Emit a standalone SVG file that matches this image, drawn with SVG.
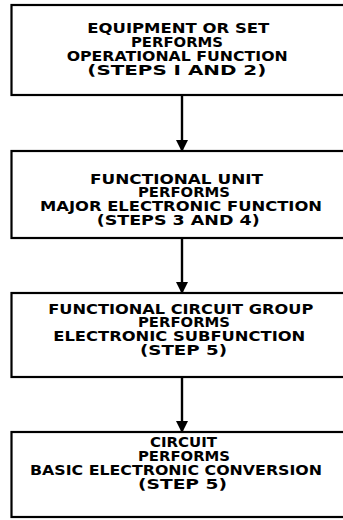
<svg xmlns="http://www.w3.org/2000/svg" width="343" height="520" viewBox="0 0 343 520">
<defs>
<style>
.box{fill:#fff;stroke:#000;stroke-width:2.2}
.t{font-family:"DejaVu Sans",sans-serif;font-weight:bold;font-size:14px;fill:#000}
.line{stroke:#000;stroke-width:2.4;fill:none}
</style>
<marker id="ah" markerUnits="userSpaceOnUse" markerWidth="12" markerHeight="24" refX="11" refY="6" orient="auto" viewBox="0 0 12 12">
<path d="M0,0 L12,6 L0,12 Z" fill="#000"/>
</marker>
</defs>
<rect width="343" height="520" fill="#fff"/>
<g id="connectors">
<line class="line" x1="182" y1="95" x2="182" y2="151" marker-end="url(#ah)"/>
<line class="line" x1="182" y1="238" x2="182" y2="293" marker-end="url(#ah)"/>
<line class="line" x1="182" y1="377" x2="182" y2="432" marker-end="url(#ah)"/>
</g>
<g id="node1">
<rect class="box" x="11.5" y="5" width="340" height="90"/>
<text class="t" x="87.3" y="33" textLength="182" lengthAdjust="spacingAndGlyphs">EQUIPMENT OR SET</text>
<text class="t" x="131" y="47" textLength="92" lengthAdjust="spacingAndGlyphs">PERFORMS</text>
<text class="t" x="66.7" y="60.5" textLength="221" lengthAdjust="spacingAndGlyphs">OPERATIONAL FUNCTION</text>
<text class="t" x="87.3" y="74.5" textLength="179" lengthAdjust="spacingAndGlyphs">(STEPS I AND 2)</text>
</g>
<g id="node2">
<rect class="box" x="11.5" y="151" width="340" height="87"/>
<text class="t" x="90" y="183.5" textLength="173" lengthAdjust="spacingAndGlyphs">FUNCTIONAL UNIT</text>
<text class="t" x="138" y="196.5" textLength="92" lengthAdjust="spacingAndGlyphs">PERFORMS</text>
<text class="t" x="40" y="210.5" textLength="282" lengthAdjust="spacingAndGlyphs">MAJOR ELECTRONIC FUNCTION</text>
<text class="t" x="96.7" y="225" textLength="163" lengthAdjust="spacingAndGlyphs">(STEPS 3 AND 4)</text>
</g>
<g id="node3">
<rect class="box" x="11.5" y="293" width="340" height="84"/>
<text class="t" x="48.3" y="313.5" textLength="265" lengthAdjust="spacingAndGlyphs">FUNCTIONAL CIRCUIT GROUP</text>
<text class="t" x="138" y="327" textLength="92" lengthAdjust="spacingAndGlyphs">PERFORMS</text>
<text class="t" x="53.3" y="340.5" textLength="252" lengthAdjust="spacingAndGlyphs">ELECTRONIC SUBFUNCTION</text>
<text class="t" x="140" y="355" textLength="87" lengthAdjust="spacingAndGlyphs">(STEP 5)</text>
</g>
<g id="node4">
<rect class="box" x="11.5" y="432" width="340" height="85"/>
<text class="t" x="150" y="447" textLength="67" lengthAdjust="spacingAndGlyphs">CIRCUIT</text>
<text class="t" x="138" y="461" textLength="92" lengthAdjust="spacingAndGlyphs">PERFORMS</text>
<text class="t" x="30" y="475" textLength="292" lengthAdjust="spacingAndGlyphs">BASIC ELECTRONIC CONVERSION</text>
<text class="t" x="138" y="489" textLength="89" lengthAdjust="spacingAndGlyphs">(STEP 5)</text>
</g>
</svg>
